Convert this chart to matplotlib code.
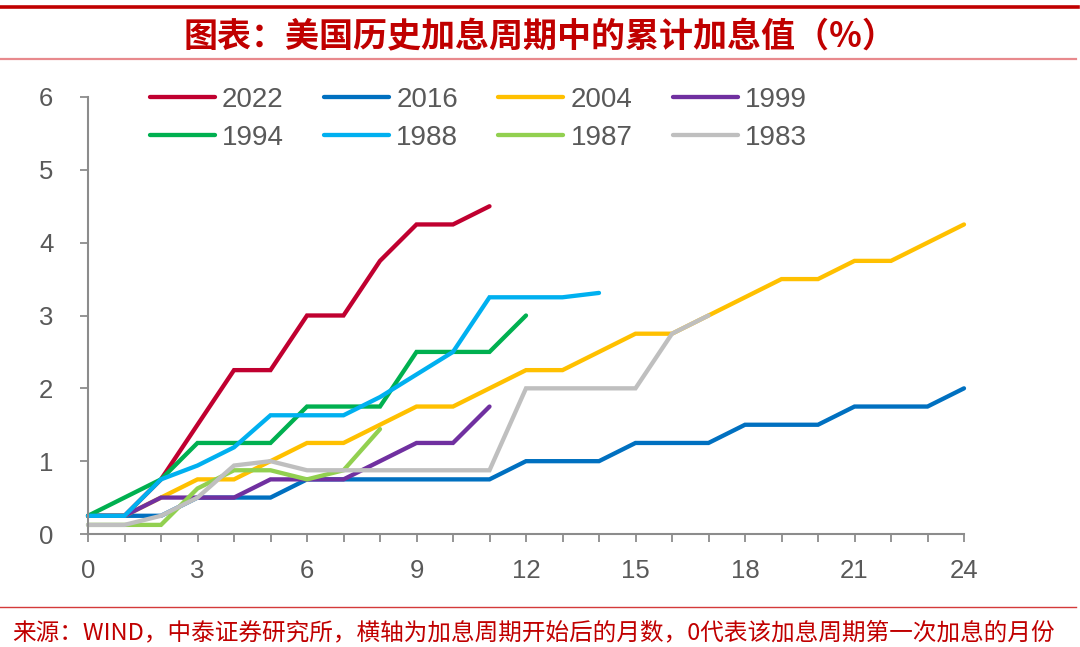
import matplotlib
matplotlib.use("Agg")
import matplotlib.pyplot as plt
from matplotlib.lines import Line2D

plt.rcParams['font.family'] = ['Liberation Sans', 'Noto Sans CJK SC', 'DejaVu Sans']

# cumulative hikes (%) by month since first hike
series_names = ["2022", "2016", "2004", "1999", "1994", "1988", "1987", "1983"]
y2022 = [0.25, 0.25, 0.75, 1.5, 2.25, 2.25, 3.0, 3.0, 3.75, 4.25, 4.25, 4.5]
y2016 = [0.25, 0.25, 0.25, 0.5, 0.5, 0.5, 0.75, 0.75, 0.75, 0.75, 0.75, 0.75,
         1.0, 1.0, 1.0, 1.25, 1.25, 1.25, 1.5, 1.5, 1.5, 1.75, 1.75, 1.75, 2.0]
y2004 = [0.25, 0.25, 0.5, 0.75, 0.75, 1.0, 1.25, 1.25, 1.5, 1.75, 1.75, 2.0,
         2.25, 2.25, 2.5, 2.75, 2.75, 3.0, 3.25, 3.5, 3.5, 3.75, 3.75, 4.0, 4.25]
y1999 = [0.25, 0.25, 0.5, 0.5, 0.5, 0.75, 0.75, 0.75, 1.0, 1.25, 1.25, 1.75]
y1994 = [0.25, 0.5, 0.75, 1.25, 1.25, 1.25, 1.75, 1.75, 1.75, 2.5, 2.5, 2.5, 3.0]
y1988 = [0.25, 0.25, 0.75, 0.94, 1.19, 1.63, 1.63, 1.63, 1.88, 2.19, 2.5,
         3.25, 3.25, 3.25, 3.31]
y1987 = [0.125, 0.125, 0.125, 0.625, 0.875, 0.875, 0.75, 0.875, 1.44]
y1983 = [0.125, 0.125, 0.25, 0.5, 0.94, 1.0, 0.875, 0.875, 0.875, 0.875, 0.875,
         0.875, 2.0, 2.0, 2.0, 2.0, 2.75, 3.0]
series_values = [y2022, y2016, y2004, y1999, y1994, y1988, y1987, y1983]
colors = ["#C00030", "#0070C0", "#FFC000", "#7030A0",
          "#00B050", "#00B0F0", "#92D050", "#BFBFBF"]

x_ticks = list(range(0, 25, 3))
y_ticks = list(range(0, 7))

W, H = 1080, 647
fig = plt.figure(figsize=(W / 100, H / 100), dpi=100)
ax = fig.add_axes([88 / W, (H - 534) / H, (964 - 88) / W, (534 - 97) / H])

handles = []
for name, vals, c in zip(series_names, series_values, colors):
    h, = ax.plot(range(len(vals)), vals, color=c, lw=3.1, label=name,
                 solid_capstyle="round", solid_joinstyle="miter", clip_on=False)
    handles.append(h)

ax.set_xlim(0, 24)
ax.set_ylim(0, 6)
ax.set_xticks(x_ticks)
ax.set_xticks(range(25), minor=True)
ax.set_yticks(y_ticks)

for s in ["top", "right"]:
    ax.spines[s].set_visible(False)
for s in ["left", "bottom"]:
    ax.spines[s].set_color("#8C8C8C")
    ax.spines[s].set_linewidth(1.5)

ax.tick_params(axis="both", which="both", color="#8C8C8C", width=1.3,
               length=6, direction="out")
ax.tick_params(axis="x", which="major", pad=12, labelsize=18.5, labelcolor="#595959")
ax.tick_params(axis="y", which="major", pad=19, labelsize=18.5, labelcolor="#595959")

order = [0, 4, 1, 5, 2, 6, 3, 7]
fig.legend([handles[i] for i in order], [series_names[i] for i in order],
           ncol=4, loc="upper left", bbox_to_anchor=(150 / W, (H - 87) / H),
           frameon=False, fontsize=20, handlelength=2.34, handletextpad=0.25,
           columnspacing=1.45, labelspacing=0.42, borderpad=0, borderaxespad=0,
           labelcolor="#595959")

# header / footer rules
fig.add_artist(Line2D([0, 1078 / W], [(H - 7) / H] * 2, color="#C00000", lw=2.6,
                      transform=fig.transFigure))
fig.add_artist(Line2D([0, 1076 / W], [(H - 59) / H] * 2, color="#E8898D", lw=1.6,
                      transform=fig.transFigure))
fig.add_artist(Line2D([0, 1076 / W], [(H - 607) / H] * 2, color="#D43A3A", lw=1.0,
                      transform=fig.transFigure))

fig.text(0.5, (H - 37) / H, "图表：美国历史加息周期中的累计加息值（%）",
         ha="center", va="center", fontsize=24.5, fontweight="bold", color="#C00000",
         family=["Noto Sans CJK SC", "DejaVu Sans"])
fig.text(12 / W, (H - 633) / H,
         "来源：WIND，中泰证券研究所，横轴为加息周期开始后的月数，0代表该加息周期第一次加息的月份",
         ha="left", va="center", fontsize=17, color="#C00000",
         family=["Noto Sans CJK SC", "DejaVu Sans"])

fig.savefig("out.png", dpi=100)
